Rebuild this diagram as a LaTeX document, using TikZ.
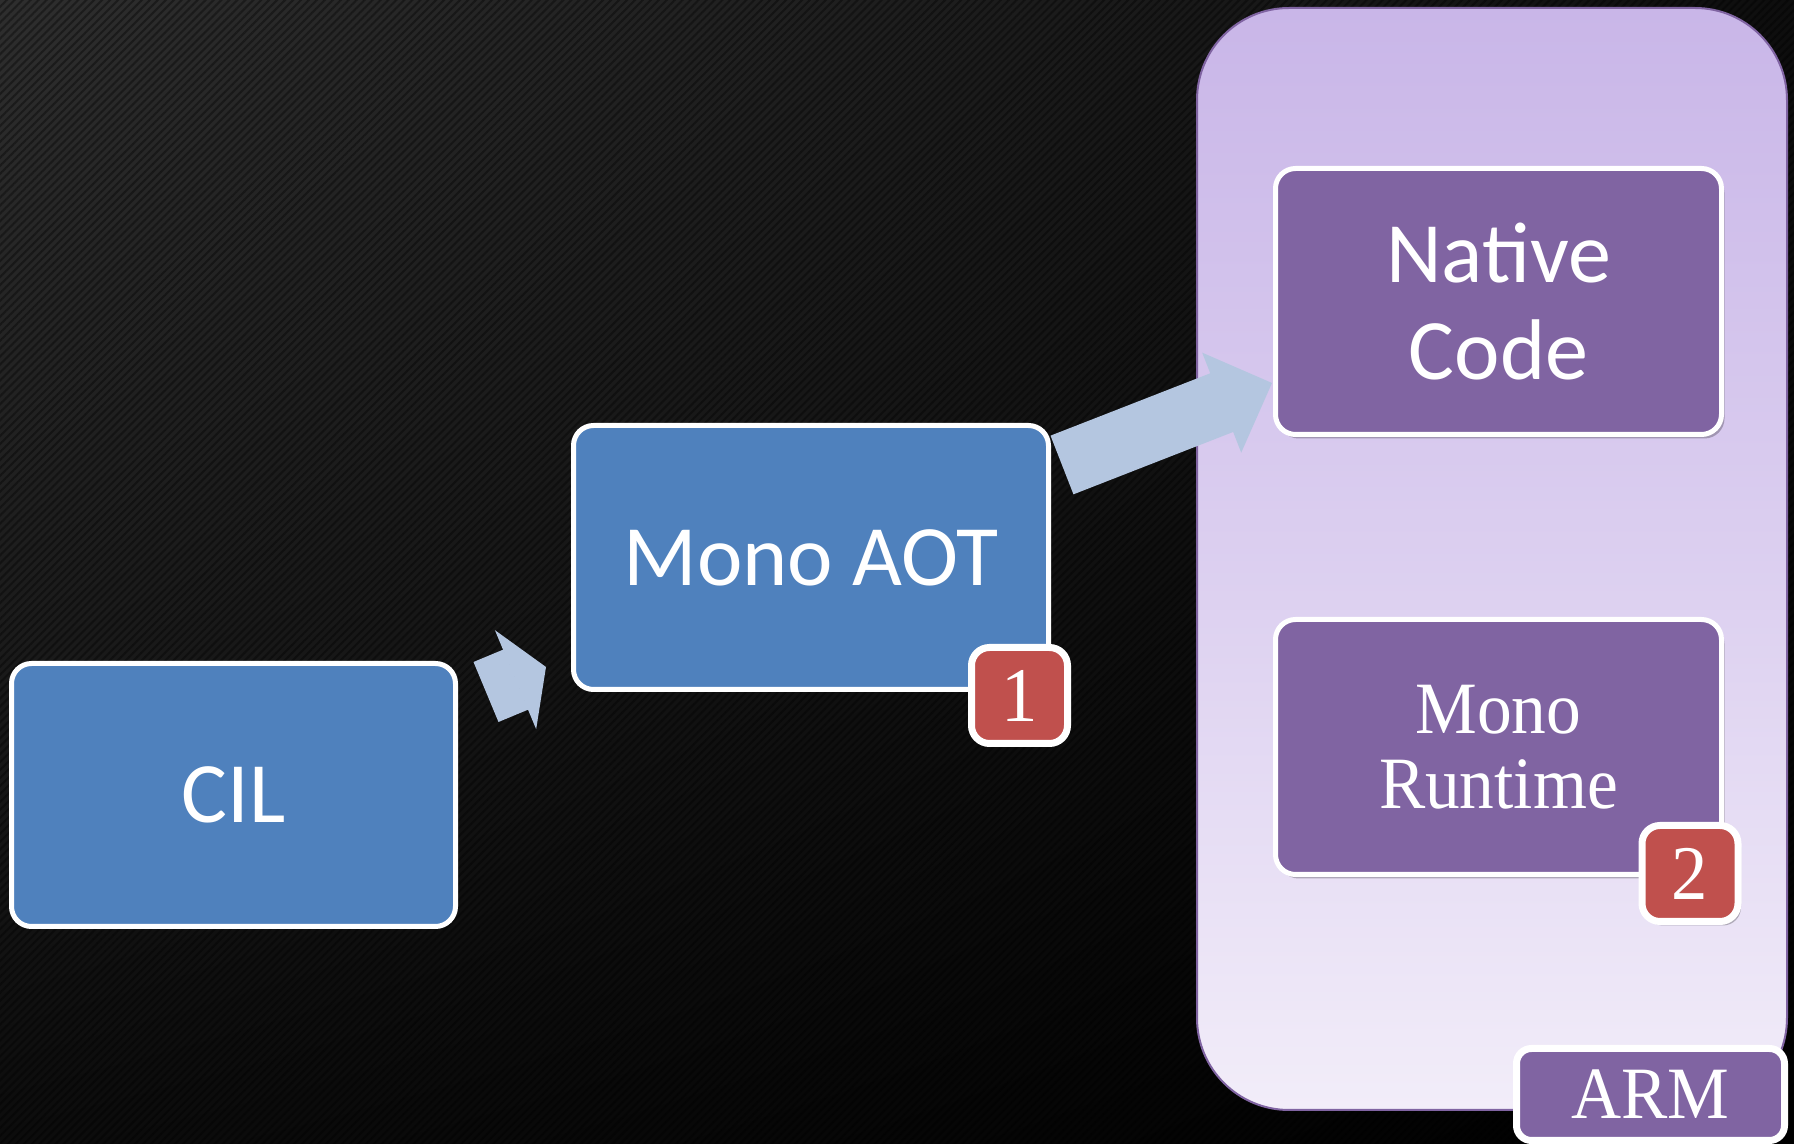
\documentclass[tikz,border=0pt]{standalone}
\usepackage{fontspec}
\newfontfamily\calibri{Carlito}
\newfontfamily\mincho[FakeStretch=0.94]{Liberation Serif}
\usepackage{tikz}
\usetikzlibrary{backgrounds,shadows,shadings,arrows.meta,patterns.meta}
\definecolor{boxblue}{RGB}{79,129,189}
\definecolor{boxpurple}{RGB}{128,100,162}
\definecolor{badgered}{RGB}{192,80,77}
\definecolor{arrowblue}{RGB}{180,198,224}
\definecolor{paneltop}{RGB}{201,182,232}
\definecolor{panelbottom}{RGB}{242,237,249}
\definecolor{bgupleft}{RGB}{46,46,46}
\definecolor{bgupright}{RGB}{14,14,14}
\definecolor{bglowleft}{RGB}{12,12,12}

\begin{document}
\begin{tikzpicture}[
    stepbox/.style={rectangle, rounded corners=0.2cm, draw=white, line width=0.05cm,
        text=white, align=center, inner sep=0pt},
    bluebox/.style={stepbox, fill=boxblue, font=\calibri\fontsize{24.5pt}{27.6pt}\selectfont},
    purplebox/.style={stepbox, fill=boxpurple,
        drop shadow={shadow xshift=0.03cm, shadow yshift=-0.04cm, fill=black, opacity=0.25}},
    badge/.style={rectangle, rounded corners=0.18cm, draw=white, line width=0.07cm,
        fill=badgered, text=white, minimum size=0.96cm, inner sep=0pt,
        font=\mincho\fontsize{22pt}{22pt}\selectfont},
    fatarrow/.style={draw=arrowblue, line cap=butt}
]
    \useasboundingbox (0,0) rectangle (17.94,-11.44);

    % blocks
    \node[bluebox, minimum width=4.44cm, minimum height=2.63cm] (cil) at (2.335,-7.95) {CIL};
    \node[bluebox, minimum width=4.75cm, minimum height=2.64cm] (aot) at (8.11,-5.575) {Mono AOT};
    \node[badge] (one) at (10.195,-6.955) {1};

    \node[purplebox, minimum width=4.46cm, minimum height=2.66cm,
        font=\calibri\fontsize{24.5pt}{27.6pt}\selectfont] (native) at (14.985,-3.015) {Native\\Code};
    \node[purplebox, minimum width=4.46cm, minimum height=2.55cm,
        font=\mincho\fontsize{21pt}{21.5pt}\selectfont] (runtime) at (14.985,-7.47) {Mono\\Runtime};
    \node[badge, drop shadow={shadow xshift=0.03cm, shadow yshift=-0.04cm, fill=black, opacity=0.25}]
        (two) at (16.9,-8.735) {2};

    \node[stepbox, fill=boxpurple, rounded corners=0.15cm, line width=0.07cm,
        minimum width=2.68cm, minimum height=0.92cm,
        font=\mincho\fontsize{21pt}{21pt}\selectfont] (arm) at (16.505,-10.945) {ARM};

    \begin{scope}[on background layer]
        % carbon background
        \shade[upper left=bgupleft, upper right=bgupright, lower left=bglowleft, lower right=black]
            (0,0) rectangle (17.94,-11.44);
        \fill[pattern={Lines[angle=45, distance=1.6pt, line width=0.6pt]}, pattern color=black, opacity=0.35]
            (0,0) rectangle (17.94,-11.44);
        % ARM panel
        \shade[top color=paneltop, bottom color=panelbottom, middle color=paneltop!55!panelbottom,
            draw=boxpurple, line width=0.02cm, rounded corners=0.92cm]
            (11.97,-0.08) rectangle (17.87,-11.10);
        % arrows
        \draw[fatarrow, line width=0.65cm, -{Triangle[width=1.07cm, length=0.33cm, line width=0.6pt]}]
            ([shift={(0.28,-0.31)}]cil.north east) -- ([shift={(-0.25,0.25)}]aot.south west);
        \draw[fatarrow, line width=0.63cm, -{Triangle[width=1.07cm, length=0.54cm, line width=0.6pt]}]
            ([shift={(0.11,-0.42)}]aot.north east) -- ([shift={(-0.01,0.54)}]native.south west);
    \end{scope}
\end{tikzpicture}
\end{document}
